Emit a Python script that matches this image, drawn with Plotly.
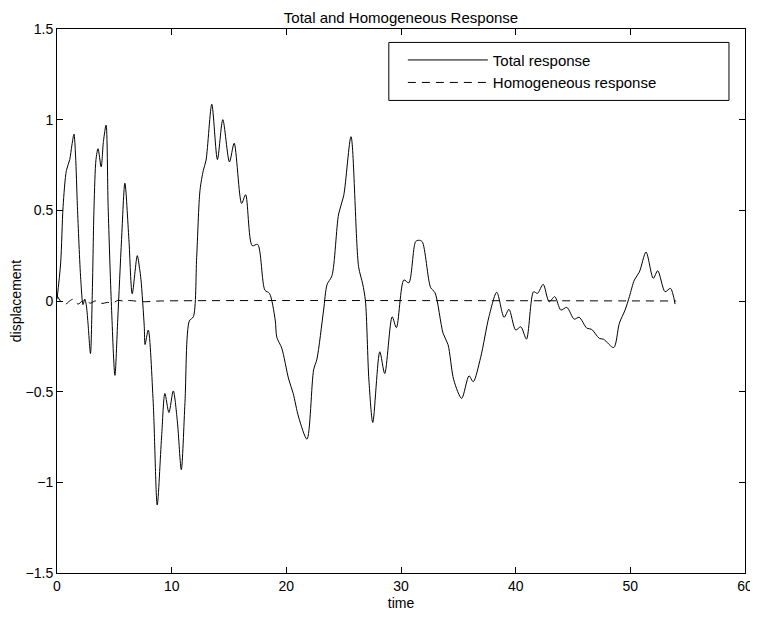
import plotly.graph_objects as go

# Total response (time, displacement)
total_t = [0.0, 0.32, 0.53, 0.82, 1.11, 1.30, 1.48, 1.62, 1.78, 2.07, 2.27, 2.42, 2.55, 2.70, 2.92,
           3.08, 3.23, 3.40, 3.58, 3.85, 4.05, 4.28, 4.46, 4.75, 5.05, 5.30, 5.63, 5.92, 6.27, 6.56,
           7.00, 7.20, 7.32, 7.61, 7.68, 7.96, 8.39, 8.74, 9.12, 9.41, 9.76, 10.14, 10.49, 10.84,
           11.16, 11.54, 11.89, 12.18, 12.47, 12.76, 13.0, 13.5, 13.99, 14.46, 15.04, 15.45, 16.1,
           16.45, 17.02, 17.5, 18.13, 18.53, 19.03, 19.17, 19.6, 20.2, 20.6, 21.07, 21.8, 22.38,
           22.67, 23.25, 23.55, 23.98, 24.56, 25.0, 25.64, 26.3, 26.66, 26.9, 27.2, 27.54, 28.15,
           28.58, 29.23, 29.6, 30.25, 30.68, 31.27, 31.55, 31.85, 32.58, 32.97, 33.67, 34.1, 34.6,
           35.29, 35.93, 36.3, 36.95, 37.67, 38.35, 38.99, 39.42, 40.0, 40.45, 40.94, 41.56, 41.9,
           42.4, 42.92, 43.41, 43.94, 44.46, 45.1, 45.54, 46.21, 46.62, 47.29, 47.67, 48.55, 49.04,
           49.54, 49.92, 50.35, 50.79, 51.37, 52.0, 52.39, 53.03, 53.5, 53.9]
total_y = [0.01, 0.21, 0.52, 0.72, 0.78, 0.86, 0.92, 0.80, 0.52, 0.12, -0.02, 0.01, -0.02, -0.12, -0.29,
           0.05, 0.52, 0.78, 0.84, 0.74, 0.88, 0.97, 0.52, -0.03, -0.41, -0.10, 0.34, 0.65, 0.34, 0.04,
           0.25, 0.18, 0.12, -0.14, -0.24, -0.16, -0.56, -1.125, -0.75, -0.51, -0.615, -0.496, -0.66, -0.93,
           -0.56, -0.11, -0.087, 0.24, 0.61, 0.72, 0.777, 1.085, 0.78, 1.0, 0.767, 0.87, 0.538,
           0.586, 0.305, 0.312, 0.06, 0.042, -0.105, -0.20, -0.26, -0.43, -0.51, -0.64, -0.762, -0.38,
           -0.32, -0.05, 0.09, 0.14, 0.48, 0.58, 0.906, 0.19, 0.094, 0.0, -0.435, -0.67, -0.28,
           -0.40, -0.087, -0.147, 0.116, 0.10, 0.327, 0.335, 0.327, 0.075, 0.045, -0.178, -0.24, -0.435,
           -0.537, -0.413, -0.445, -0.31, -0.087, 0.048, -0.09, -0.046, -0.16, -0.142, -0.21, 0.051, 0.042,
           0.092, -0.004, 0.024, -0.05, -0.035, -0.1, -0.09, -0.15, -0.156, -0.206, -0.211, -0.257, -0.123,
           -0.05, 0.024, 0.116, 0.16, 0.27, 0.125, 0.167, 0.051, 0.07, -0.017]

# Homogeneous response (small decaying wiggle near zero)
homog_t = [0.0, 0.3, 0.67, 1.0, 1.4, 1.84, 2.2, 2.5, 2.9, 3.3, 3.6, 3.9, 4.4, 4.9, 5.3, 5.8, 6.2,
           6.8, 7.6, 9.0, 54.0]
homog_y = [0.03, 0.0, -0.022, -0.005, 0.01, -0.017, 0.0, 0.005, -0.012, 0.0, 0.0, -0.013, -0.008,
           -0.01, 0.003, 0.0, 0.003, 0.0, -0.004, 0.0, 0.0]

x_ticks = [0, 10, 20, 30, 40, 50, 60]
y_ticks = [-1.5, -1, -0.5, 0, 0.5, 1, 1.5]

FONT = "Liberation Sans, Arial, Helvetica, sans-serif"

fig = go.Figure()
fig.add_trace(go.Scatter(x=total_t, y=total_y, mode="lines", name="Total response",
                         line=dict(color="black", width=1, shape="spline", smoothing=0.8)))
fig.add_trace(go.Scatter(x=homog_t, y=homog_y, mode="lines", name="Homogeneous response",
                         line=dict(color="black", width=1, dash="8px,6px", shape="spline", smoothing=0.8)))

axis_common = dict(showgrid=False, zeroline=False, showline=True, linecolor="black", linewidth=1,
                   mirror="allticks", ticks="inside", ticklen=6, tickcolor="black", automargin=False,
                   tickfont=dict(family=FONT, size=14, color="black"))

fig.update_layout(
    width=750, height=609,
    paper_bgcolor="white", plot_bgcolor="white",
    margin=dict(l=49, r=13, t=21, b=44),
    title=dict(text="Total and Homogeneous Response", x=0.524, xanchor="center", y=0.993, yanchor="top",
               pad=dict(t=0, b=0), font=dict(family=FONT, size=15, color="black")),
    xaxis=dict(range=[0, 60], tickvals=x_ticks,
               title=dict(text="time", font=dict(family=FONT, size=14, color="black"), standoff=5),
               **axis_common),
    yaxis=dict(range=[-1.5, 1.5], tickvals=y_ticks,
               title=dict(text="displacement", font=dict(family=FONT, size=14, color="black"), standoff=0),
               **axis_common),
    showlegend=True,
    legend=dict(x=0.5027, y=0.973, xanchor="left", yanchor="top", bgcolor="rgba(0,0,0,0)",
                borderwidth=0, font=dict(family=FONT, size=15, color="black"), itemwidth=80,
                tracegroupgap=0),
    shapes=[dict(type="rect", xref="paper", yref="paper", x0=0.4823, x1=0.9767, y0=0.8687, y1=0.9753,
                 line=dict(color="black", width=1), fillcolor="white", layer="below")],
)

fig.write_html("out.html")
